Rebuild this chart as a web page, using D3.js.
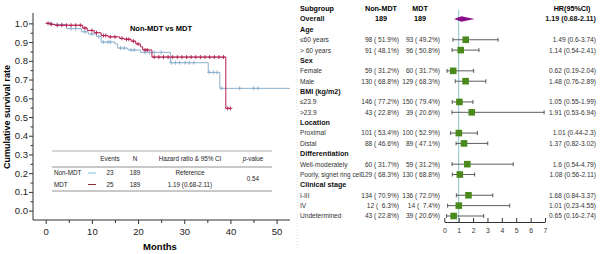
<!DOCTYPE html>
<html>
<head>
<meta charset="utf-8">
<script src="https://cdn.jsdelivr.net/npm/d3@7"></script>
<style>
  body { margin: 0; background: #fff; }
  svg { font-family: "Liberation Sans", Arial, sans-serif; display: block; }
</style>
</head>
<body>
<svg id="chart" width="600" height="254"></svg>
<script>
// ---- Kaplan-Meier data ----
const nonMdtSteps = [[0, 1.0], [1.5, 0.994], [4.5, 0.972], [7.8, 0.955], [9.2, 0.943], [11, 0.93], [12, 0.90],
  [15, 0.89], [15.6, 0.868], [17.8, 0.858], [20.5, 0.845], [27, 0.79], [35.2, 0.738], [37.7, 0.653], [52.9, 0.653]];
const nonMdtCensor = [1, 2.5, 3.5, 5.5, 6.5, 8.5, 10, 11.5, 12.5, 13.5, 14, 16.2, 17, 18.5, 19.2, 21.5, 22.5, 23.5, 25,
  27.2, 28.1, 29, 30.2, 31.1, 32.1, 35.4, 36.3, 37.1, 38.1, 42, 45, 46];
const mdtSteps = [[0, 1.0], [1, 0.995], [2, 0.99], [8, 0.975], [9, 0.962], [10.5, 0.95], [12, 0.935], [13.5, 0.928],
  [16, 0.92], [17, 0.915], [18.5, 0.905], [19.5, 0.89], [20.5, 0.875], [21, 0.858], [23, 0.82], [39, 0.546], [40, 0.546]];
const mdtCensor = [0.5, 1.2, 2.5, 3.5, 4.5, 5.5, 6.5, 7.5, 8.5, 10, 11, 12.5, 13, 14, 15, 16.5, 17.5, 18, 19, 20,
  21.5, 22, 23.5, 24.5, 25.5, 26.5, 27.5, 28.5, 29.5, 30.5, 31.5, 32.5, 33.5, 34.5, 35.5, 36.5, 37.5, 38.5, 39.4, 40];

const kmTable = [
  { name: "Non-MDT", events: "23", n: "189", hr: "Reference" },
  { name: "MDT", events: "25", n: "189", hr: "1.19 (0.68-2.11)" }
];
const kmPValue = "0.54";

// ---- Forest plot data ----
const subgroups = ["Overall", "Age", "≤60 years", "> 60 years", "Sex", "Female", "Male", "BMI (kg/m2)", "≤23.9", ">23.9",
  "Location", "Proximal", "Distal", "Differentiation", "Well-moderately", "Poorly, signet ring cell", "Clinical stage",
  "I-III", "IV", "Undetermined"];
const headerRows = ["Overall", "Age", "Sex", "BMI (kg/m2)", "Location", "Differentiation", "Clinical stage"];
const nonMdtCounts = ["189", "", "98 ( 51.9%)", "91 ( 48.1%)", "", "59 ( 31.2%)", "130 ( 68.8%)", "", "146 ( 77.2%)",
  "43 ( 22.8%)", "", "101 ( 53.4%)", "88 ( 46.6%)", "", "60 ( 31.7%)", "129 ( 68.3%)", "", "134 ( 70.9%)", "12 (  6.3%)", "43 ( 22.8%)"];
const mdtCounts = ["189", "", "93 ( 49.2%)", "96 ( 50.8%)", "", "60 ( 31.7%)", "129 ( 68.3%)", "", "150 ( 79.4%)",
  "39 ( 20.6%)", "", "100 ( 52.9%)", "89 ( 47.1%)", "", "59 ( 31.2%)", "130 ( 68.8%)", "", "136 ( 72.0%)", "14 (  7.4%)", "39 ( 20.6%)"];
const hr = [1.19, null, 1.49, 1.14, null, 0.62, 1.48, null, 1.05, 1.91, null, 1.01, 1.37, null, 1.6, 1.08, null, 1.68, 1.01, 0.65];
const hrLow = [0.68, null, 0.6, 0.54, null, 0.19, 0.76, null, 0.55, 0.53, null, 0.44, 0.82, null, 0.54, 0.56, null, 0.84, 0.23, 0.16];
const hrHigh = [2.11, null, 3.74, 2.41, null, 2.04, 2.89, null, 1.99, 6.94, null, 2.3, 3.02, null, 4.79, 2.11, null, 3.37, 4.55, 2.74];
const hrLabels = ["1.19 (0.68-2.11)", "", "1.49 (0.6-3.74)", "1.14 (0.54-2.41)", "", "0.62 (0.19-2.04)", "1.48 (0.76-2.89)", "",
  "1.05 (0.55-1.99)", "1.91 (0.53-6.94)", "", "1.01 (0.44-2.3)", "1.37 (0.82-3.02)", "", "1.6 (0.54-4.79)", "1.08 (0.56-2.11)", "",
  "1.68 (0.84-3.37)", "1.01 (0.23-4.55)", "0.65 (0.16-2.74)"];
const forestTicks = [0, 1, 2, 3, 4, 5, 6, 7];

const blue = "#8db1cf", red = "#b3204f";
const svg = d3.select("#chart");

// ================= Kaplan-Meier panel =================
const kx = d3.scaleLinear().domain([-2.75, 52.9]).range([33, 290]);
const ky = d3.scaleLinear().domain([-0.05, 1.05]).range([220, 14]);

const km = svg.append("g");

// y axis
const yAxis = d3.axisLeft(ky).tickValues(d3.range(0, 1.01, 0.1)).tickFormat(d3.format(".1f")).tickSize(4);
km.append("g").attr("transform", "translate(33,0)").call(yAxis)
  .call(g => g.select(".domain").remove())
  .call(g => g.selectAll("text").attr("font-size", 9.5).attr("fill", "#222").attr("x", -5))
  .call(g => g.selectAll("line").attr("stroke", "#333"));
km.append("g").attr("transform", "translate(33,0)")
  .call(d3.axisLeft(ky).tickValues(d3.range(0.05, 1.0, 0.1)).tickFormat("").tickSize(2.5))
  .call(g => g.select(".domain").remove())
  .call(g => g.selectAll("line").attr("stroke", "#333"));
km.append("line").attr("x1", 33).attr("x2", 33).attr("y1", 13).attr("y2", 220).attr("stroke", "#333");

// x axis
const xAxis = d3.axisBottom(kx).tickValues([0, 10, 20, 30, 40, 50]).tickSize(4);
km.append("g").attr("transform", "translate(0,220)").call(xAxis)
  .call(g => g.select(".domain").remove())
  .call(g => g.selectAll("text").attr("font-size", 9.5).attr("fill", "#222").attr("y", 8))
  .call(g => g.selectAll("line").attr("stroke", "#333"));
km.append("g").attr("transform", "translate(0,220)")
  .call(d3.axisBottom(kx).tickValues([5, 15, 25, 35, 45]).tickFormat("").tickSize(3))
  .call(g => g.select(".domain").remove())
  .call(g => g.selectAll("line").attr("stroke", "#333"));
km.append("line").attr("x1", 33).attr("x2", 290).attr("y1", 220).attr("y2", 220).attr("stroke", "#333");

km.append("text").attr("x", 160).attr("y", 250).attr("text-anchor", "middle")
  .attr("font-size", 9.5).attr("font-weight", "bold").text("Months");
km.append("text").attr("transform", "translate(10,117) rotate(-90)").attr("text-anchor", "middle")
  .attr("font-size", 9).attr("font-weight", "bold").text("Cumulative survival rate");
km.append("text").attr("x", 161).attr("y", 31).attr("text-anchor", "middle")
  .attr("font-size", 7.5).attr("font-weight", "bold").text("Non-MDT vs MDT");

// right border dotted
km.append("line").attr("x1", 297).attr("x2", 297).attr("y1", 25).attr("y2", 250)
  .attr("stroke", "#ccc").attr("stroke-dasharray", "1,2").attr("stroke-width", 0.6);

const stepLine = d3.line().x(d => kx(d[0])).y(d => ky(d[1])).curve(d3.curveStepAfter);

function survAt(steps, t) {
  let s = steps[0][1];
  steps.forEach(d => { if (d[0] <= t) s = d[1]; });
  return s;
}

function drawCurve(steps, censor, color) {
  km.append("path").datum(steps).attr("d", stepLine)
    .attr("fill", "none").attr("stroke", color).attr("stroke-width", 1);
  km.selectAll(null).data(censor).enter().append("path")
    .attr("d", t => {
      const cx = kx(t), cy = ky(survAt(steps, t));
      return `M${cx - 2},${cy}H${cx + 2}M${cx},${cy - 2}V${cy + 2}`;
    })
    .attr("stroke", color).attr("stroke-width", 0.9);
}
drawCurve(nonMdtSteps, nonMdtCensor, blue);
drawCurve(mdtSteps, mdtCensor, red);

// embedded table
const tb = km.append("g").attr("font-size", 6.3).attr("fill", "#222");
[151, 167, 191].forEach((yy, i) => {
  tb.append("line").attr("x1", 52).attr("x2", 272).attr("y1", yy).attr("y2", yy)
    .attr("stroke", "#777").attr("stroke-width", i === 0 ? 0.6 : 0.8);
});
const colX = { events: 110, n: 135, hr: 190, p: 253 };
tb.append("text").attr("x", colX.events).attr("y", 161).attr("text-anchor", "middle").text("Events");
tb.append("text").attr("x", colX.n).attr("y", 161).attr("text-anchor", "middle").text("N");
tb.append("text").attr("x", colX.hr).attr("y", 161).attr("text-anchor", "middle").text("Hazard ratio & 95% CI");
const pv = tb.append("text").attr("x", colX.p).attr("y", 161).attr("text-anchor", "middle");
pv.append("tspan").attr("font-style", "italic").text("p");
pv.append("tspan").text("-value");
kmTable.forEach((r, i) => {
  const yy = 175 + i * 11.5;
  tb.append("text").attr("x", 54).attr("y", yy).text(r.name);
  tb.append("line").attr("x1", 88).attr("x2", 96).attr("y1", yy - 2).attr("y2", yy - 2)
    .attr("stroke", i === 0 ? "#7fc4d8" : "#8b2c3a").attr("stroke-width", 1);
  tb.append("text").attr("x", colX.events).attr("y", yy).attr("text-anchor", "middle").text(r.events);
  tb.append("text").attr("x", colX.n).attr("y", yy).attr("text-anchor", "middle").text(r.n);
  tb.append("text").attr("x", colX.hr).attr("y", yy).attr("text-anchor", "middle").text(r.hr);
});
tb.append("text").attr("x", colX.p).attr("y", 181).attr("text-anchor", "middle").text(kmPValue);

// ================= Forest panel =================
const fx = d3.scaleLinear().domain([0, 7]).range([444.3, 545]);
const fy = d3.scalePoint().domain(d3.range(subgroups.length)).range([19, 216]);
const fp = svg.append("g").attr("font-size", 6.8);

// headers
fp.append("g").attr("font-weight", "bold").attr("font-size", 7.2)
  .call(g => {
    g.append("text").attr("x", 300).attr("y", 11).text("Subgroup");
    g.append("text").attr("x", 381).attr("y", 11).attr("text-anchor", "middle").text("Non-MDT");
    g.append("text").attr("x", 420).attr("y", 11).attr("text-anchor", "middle").text("MDT");
    g.append("text").attr("x", 572).attr("y", 11).attr("text-anchor", "middle").text("HR(95%CI)");
  });

// reference line
fp.append("line").attr("x1", fx(1)).attr("x2", fx(1)).attr("y1", 10).attr("y2", 222)
  .attr("stroke", "#8cc3cc").attr("stroke-width", 1);

subgroups.forEach((s, i) => {
  const yy = fy(i) + 2.4;
  const isHead = headerRows.includes(s);
  const isOverall = i === 0;
  const lbl = fp.append("text").attr("x", 300).attr("y", yy)
    .attr("font-weight", isHead ? "bold" : null).attr("font-size", isHead ? 7.2 : 6.6)
    .attr("fill", isHead ? "#111" : "#333").text(s);
  if (!isHead && lbl.node().getComputedTextLength() > 62) {
    lbl.attr("textLength", 62).attr("lengthAdjust", "spacingAndGlyphs");
  }
  if (isOverall) {
    fp.append("text").attr("x", 381).attr("y", yy).attr("text-anchor", "middle").attr("font-weight", "bold").attr("font-size", 7.2).text(nonMdtCounts[i]);
    fp.append("text").attr("x", 420).attr("y", yy).attr("text-anchor", "middle").attr("font-weight", "bold").attr("font-size", 7.2).text(mdtCounts[i]);
  } else if (nonMdtCounts[i]) {
    fp.append("text").attr("x", 399).attr("y", yy).attr("text-anchor", "end").attr("fill", "#333").attr("font-size", 6.6)
      .attr("xml:space", "preserve").style("white-space", "pre").text(nonMdtCounts[i]);
    fp.append("text").attr("x", 440).attr("y", yy).attr("text-anchor", "end").attr("fill", "#333").attr("font-size", 6.6)
      .attr("xml:space", "preserve").style("white-space", "pre").text(mdtCounts[i]);
  }
  if (hrLabels[i]) {
    fp.append("text").attr("x", 596).attr("y", yy).attr("text-anchor", "end")
      .attr("font-weight", isOverall ? "bold" : null).attr("font-size", isOverall ? 7.2 : 6.6)
      .attr("fill", isOverall ? "#111" : "#333").text(hrLabels[i]);
  }
});

// CI bars and squares
const est = d3.range(subgroups.length).filter(i => hr[i] !== null && i > 0);
est.forEach(i => {
  const yy = fy(i);
  fp.append("line").attr("x1", fx(hrLow[i])).attr("x2", fx(hrHigh[i])).attr("y1", yy).attr("y2", yy)
    .attr("stroke", "#333").attr("stroke-width", 0.8);
  [hrLow[i], hrHigh[i]].forEach(v => {
    fp.append("line").attr("x1", fx(v)).attr("x2", fx(v)).attr("y1", yy - 2).attr("y2", yy + 2)
      .attr("stroke", "#333").attr("stroke-width", 0.8);
  });
  fp.append("rect").attr("x", fx(hr[i]) - 3.3).attr("y", yy - 3.3).attr("width", 6.6).attr("height", 6.6)
    .attr("fill", "#4a8a1c");
});
// overall diamond
fp.append("path")
  .attr("d", `M${fx(hrLow[0])},${fy(0)}L${fx(hr[0])},${fy(0) - 2.8}L${fx(hrHigh[0])},${fy(0)}L${fx(hr[0])},${fy(0) + 2.8}Z`)
  .attr("fill", "#8a0f86");

// forest axis
fp.append("g").attr("transform", "translate(0,222)")
  .call(d3.axisBottom(fx).tickValues(forestTicks).tickFormat(d3.format("d")).tickSizeInner(-4).tickSizeOuter(0).tickPadding(6))
  .call(g => g.select(".domain").attr("stroke", "#333"))
  .call(g => g.selectAll("line").attr("stroke", "#333"))
  .call(g => g.selectAll("text").attr("font-size", 6.8).attr("fill", "#333").attr("font-family", "Liberation Sans, Arial"));
</script>
</body>
</html>
